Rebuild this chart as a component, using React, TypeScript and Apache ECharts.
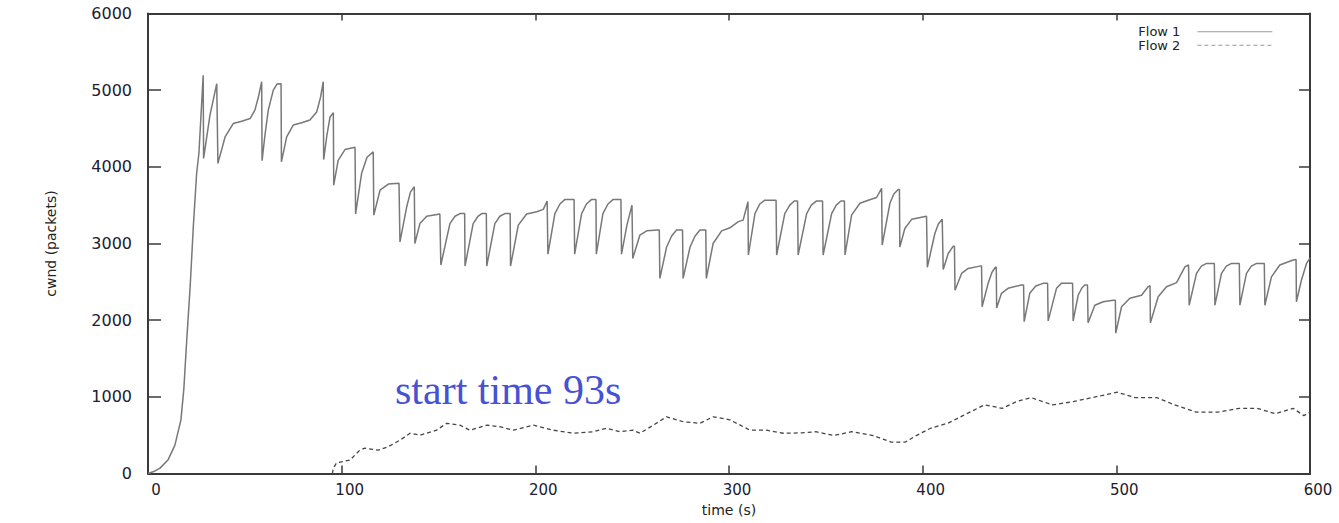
import { useEffect, useRef } from "react";
import * as echarts from "echarts";

// Congestion window of two flows, [time (s), cwnd (packets)]
const flow1Points: [number, number][] = [
  [0, 0], [3, 25], [6.2, 70], [10.3, 175], [13.9, 370], [17, 700], [18.5, 1100], [20, 1740], [21.8, 2450], [23.4, 3220], [25.1, 3910], [26.3, 4180], [28.5, 5195],
  [28.7, 4110], [32, 4675], [35.5, 5085],
  [36.1, 4045], [39.8, 4390], [44, 4565], [48.4, 4595], [52.7, 4630], [55.2, 4740], [57, 4910], [58.7, 5110],
  [58.9, 4080], [60.4, 4415], [62.1, 4740], [64.7, 5000], [66.6, 5080], [68.7, 5085],
  [68.9, 4065], [71.6, 4390], [75, 4545], [79.4, 4575], [83.6, 4610], [87.1, 4715], [89.1, 4910], [90.5, 5110],
  [90.7, 4095], [92.4, 4415], [94, 4650], [95.7, 4705],
  [95.9, 3760], [98.2, 4085], [101.7, 4225], [106.9, 4255],
  [107.2, 3385], [110.3, 3915], [113.1, 4125], [116.3, 4195],
  [116.6, 3370], [119.8, 3695], [124.1, 3775], [129.6, 3785],
  [130.1, 3020], [133.6, 3480], [135.5, 3670], [137.5, 3740],
  [137.8, 3000], [140.4, 3260], [143.9, 3355], [150.7, 3385],
  [151.2, 2720], [155.9, 3260], [158.5, 3355], [161.1, 3390], [163.5, 3390],
  [163.7, 2705], [167.9, 3260], [170.4, 3355], [172.3, 3390], [174.7, 3390],
  [174.9, 2705], [179.1, 3260], [181.7, 3355], [184.3, 3390], [187, 3390],
  [187.2, 2705], [191.2, 3240], [195.5, 3385], [200.7, 3415], [204.1, 3445], [206.1, 3555],
  [206.5, 2860], [210.1, 3390], [212.7, 3515], [215.3, 3575], [220, 3575],
  [220.3, 2860], [223.9, 3390], [226.4, 3515], [229.1, 3575], [231.3, 3575],
  [231.5, 2860], [234.9, 3390], [237.5, 3515], [240.2, 3575], [244.2, 3575],
  [244.5, 2860], [247.3, 3240], [249.9, 3500],
  [250.3, 2805], [254, 3110], [257.5, 3165], [263.4, 3175], [264, 3175],
  [264.3, 2545], [267.8, 2955], [270.3, 3095], [272.9, 3175], [276, 3175],
  [276.3, 2545], [279.9, 2955], [282.4, 3095], [285, 3175], [288, 3175],
  [288.3, 2545], [291.8, 3000], [296.2, 3165], [300.5, 3205], [304.8, 3285], [307.3, 3305], [309.8, 3545],
  [310, 2850], [313.4, 3390], [315.9, 3515], [318.5, 3565], [324.3, 3565],
  [324.6, 2850], [328.8, 3390], [331.4, 3500], [333.7, 3555], [335.4, 3555],
  [335.7, 2850], [340.1, 3390], [342.5, 3500], [345.2, 3555], [348.3, 3555],
  [348.6, 2850], [353, 3390], [355.4, 3500], [357.8, 3555], [359.6, 3555],
  [359.9, 2850], [363.3, 3370], [367.6, 3525], [371.9, 3565], [376.2, 3600], [378.8, 3720],
  [379.1, 2980], [383.1, 3525], [385.1, 3645], [387.4, 3705], [388, 3705],
  [388.2, 2955], [390.8, 3195], [394.3, 3315], [402, 3355],
  [402.4, 2690], [406.3, 3130], [408.1, 3255], [410.1, 3315], [410.4, 3315],
  [410.6, 2660], [413.2, 2870], [415.8, 2965], [416.4, 2965],
  [416.7, 2390], [420.1, 2610], [423.5, 2675], [429.5, 2705], [430.4, 2705],
  [430.7, 2175], [433.8, 2480], [435.8, 2625], [437.6, 2690], [438, 2690],
  [438.2, 2160], [440.7, 2350], [444.1, 2415], [451.1, 2460], [452.1, 2460],
  [452.4, 1980], [455.3, 2350], [458.4, 2445], [462.2, 2480], [464.5, 2480],
  [464.8, 1990], [469.1, 2415], [471.6, 2480], [477.4, 2480],
  [477.7, 1990], [480.3, 2325], [482.2, 2420], [483.7, 2460], [485.1, 2460],
  [485.4, 1965], [488.9, 2195], [493.2, 2240], [498.4, 2260], [499.5, 2260],
  [499.7, 1830], [502.7, 2175], [507, 2285], [513, 2325], [516.4, 2435], [517.4, 2450],
  [517.6, 1965], [521.6, 2305], [525.9, 2435], [531.1, 2490], [535.4, 2695], [537.3, 2720],
  [537.6, 2195], [541.4, 2610], [543.9, 2705], [546.6, 2740], [550.6, 2740],
  [550.9, 2195], [554.3, 2610], [556.8, 2705], [559.5, 2740], [563.5, 2740],
  [563.8, 2195], [567.2, 2610], [569.7, 2705], [572.4, 2740], [576.4, 2740],
  [576.7, 2195], [580.1, 2565], [584.4, 2720], [591.3, 2785], [592.8, 2790],
  [593, 2240], [595.6, 2525], [598.2, 2740], [600, 2810],
];

const flow2Points: [number, number][] = [
  [95.2, 0], [95.7, 70], [97.4, 140], [104.3, 175], [109.4, 305], [112, 330], [118.9, 305], [124.1, 350],
  [130.1, 435], [135.3, 525], [140.4, 500], [149, 565], [154.2, 655], [161.1, 630], [166.2, 565],
  [174.9, 630], [181.7, 610], [188.6, 565], [198.9, 630], [209.2, 565], [219.6, 525], [229.9, 545],
  [236.8, 590], [243.7, 545], [250.5, 565], [254, 525], [260.9, 630], [267.8, 740], [276.4, 675],
  [285, 655], [291.8, 740], [300.5, 700], [310.8, 565], [319.4, 565], [328, 525], [337.4, 530],
  [344.8, 545], [354.1, 495], [363.3, 545], [374.4, 495], [383.7, 410], [391.1, 410], [396.7, 495],
  [404.1, 590], [413.4, 660], [420.8, 755], [431.9, 895], [441.1, 850], [448.6, 940], [456, 990],
  [467.1, 895], [478.2, 940], [487.5, 990], [500.5, 1060], [509.7, 990], [520.9, 990], [530.1, 895],
  [541.3, 800], [552.4, 800], [563.5, 850], [572.7, 850], [582, 780], [591.3, 850], [596.8, 755], [600, 800],
];

const seriesNames = ["Flow 1", "Flow 2"];
const timeRange = { min: 0, max: 600, step: 100 };
const cwndRange = { min: 0, max: 6000, step: 1000 };
const annotation = "start time 93s";

const frameColor = "#3a3a3a";
const labelFont = "DejaVu Sans";

export default function App() {
  const ref = useRef<HTMLDivElement>(null);

  useEffect(() => {
    if (!ref.current) return;
    const chart = echarts.init(ref.current, null, { renderer: "svg" });

    const frameLine = { show: true, onZero: false, lineStyle: { color: frameColor, width: 2 } };
    const plainNumber = (v: number) => String(v);

    const mirrorX = {
      type: "value",
      min: timeRange.min,
      max: timeRange.max,
      interval: timeRange.step,
      position: "top",
      axisLine: frameLine,
      axisTick: { show: true, inside: true, length: 7, lineStyle: { color: frameColor, width: 1.5 } },
      axisLabel: { show: false },
      splitLine: { show: false },
    };
    const mirrorY = {
      type: "value",
      min: cwndRange.min,
      max: cwndRange.max,
      interval: cwndRange.step,
      position: "right",
      axisLine: frameLine,
      axisTick: { show: true, inside: true, length: 11, lineStyle: { color: frameColor, width: 1.5 } },
      axisLabel: { show: false },
      splitLine: { show: false },
    };

    chart.setOption({
      animation: false,
      backgroundColor: "#ffffff",
      grid: { left: 148, right: 29, top: 13.5, bottom: 49.5 },
      xAxis: [
        {
          type: "value",
          min: timeRange.min,
          max: timeRange.max,
          interval: timeRange.step,
          position: "bottom",
          name: "time (s)",
          nameLocation: "middle",
          nameGap: 29,
          nameTextStyle: { fontSize: 14, fontFamily: labelFont, color: "#222" },
          axisLine: frameLine,
          axisTick: { show: true, inside: true, length: 8, lineStyle: { color: frameColor, width: 1.5 } },
          axisLabel: {
            margin: 9,
            fontSize: 15,
            fontFamily: labelFont,
            color: "#202030",
            padding: [0, 0, 0, 16],
            formatter: plainNumber,
          },
          splitLine: { show: false },
        },
        mirrorX,
      ],
      yAxis: [
        {
          type: "value",
          min: cwndRange.min,
          max: cwndRange.max,
          interval: cwndRange.step,
          position: "left",
          name: "cwnd (packets)",
          nameLocation: "middle",
          nameGap: 90,
          nameRotate: 90,
          nameTextStyle: { fontSize: 14, fontFamily: labelFont, color: "#222" },
          axisLine: frameLine,
          axisTick: { show: true, inside: true, length: 13, lineStyle: { color: frameColor, width: 1.5 } },
          axisLabel: { margin: 16, fontSize: 16, fontFamily: labelFont, color: "#202030", formatter: plainNumber },
          splitLine: { show: false },
        },
        mirrorY,
      ],
      legend: {
        data: seriesNames,
        orient: "vertical",
        right: 61,
        top: 20,
        align: "right",
        itemWidth: 75,
        itemHeight: 2,
        itemGap: 0,
        selectedMode: false,
        itemStyle: { color: "transparent", borderWidth: 0 },
        lineStyle: { color: "#9a9a9a", width: 1.2 },
        textStyle: { fontSize: 13, fontFamily: labelFont, color: "#222", lineHeight: 13.5, padding: [0, 12, 0, 0] },
      },
      series: [
        {
          name: seriesNames[0],
          type: "line",
          data: flow1Points,
          symbol: "none",
          xAxisIndex: 0,
          yAxisIndex: 0,
          itemStyle: { color: "#9a9a9a" },
          lineStyle: { color: "#787878", width: 1.5 },
        },
        {
          name: seriesNames[1],
          type: "line",
          data: flow2Points,
          symbol: "none",
          xAxisIndex: 0,
          yAxisIndex: 0,
          itemStyle: { color: "#888" },
          lineStyle: { color: "#454545", width: 1.3, type: [4, 3] },
        },
      ],
      graphic: [
        {
          type: "text",
          left: 395,
          top: 369,
          style: {
            text: annotation,
            fontFamily: "Liberation Serif",
            fontSize: 42,
            fill: "#4652d4",
          },
        },
      ],
    });

    return () => chart.dispose();
  }, []);

  return (
    <div
      ref={ref}
      style={{ position: "fixed", left: 0, top: 0, width: 1339, height: 523 }}
    />
  );
}
